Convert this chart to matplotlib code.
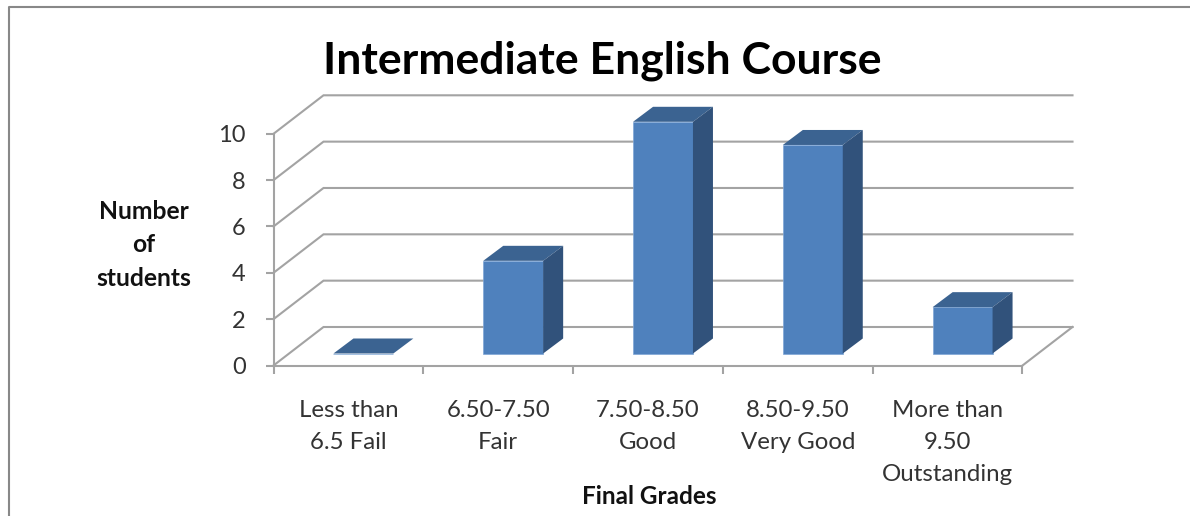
import matplotlib
matplotlib.use("Agg")
import matplotlib.pyplot as plt
from matplotlib.lines import Line2D
from matplotlib.patches import Polygon

plt.rcParams['font.family'] = ['Lato', 'DejaVu Sans']

# Set-up the data
grades = ["Less than\n6.5 Fail", "6.50-7.50\nFair", "7.50-8.50\nGood",
          "8.50-9.50\nVery Good", "More than\n9.50\nOutstanding"]
students = [0, 4, 10, 9, 2]
y_ticks = [0, 2, 4, 6, 8, 10]

W, H = 1190, 516
LEFT, RIGHT, BOTTOM, TOP = 273.5, 1022.5, 365.5, 133.8
px_x = (RIGHT - LEFT) / len(grades)   # pixels per category
px_y = (BOTTOM - TOP) / 10            # pixels per student

# 3d look, in data units
wall_dx, wall_dy = 50 / px_x, 38.5 / px_y
bar_off_x, bar_off_y = 15 / px_x, 12 / px_y
bar_dx, bar_dy = 20 / px_x, 15 / px_y
bar_width = 0.4

grey = '#a3a3a3'
front_col, top_col, side_col = '#4f81bd', '#3b6391', '#31527b'

fig = plt.figure(figsize=(W / 100, H / 100), dpi=100)
ax = fig.add_axes([LEFT / W, 1 - BOTTOM / H, (RIGHT - LEFT) / W, (BOTTOM - TOP) / H])
ax.set_xlim(0, len(grades))
ax.set_ylim(0, 10)

# walls
for v in y_ticks:
    ax.plot([0, wall_dx, len(grades) + wall_dx], [v, v + wall_dy, v + wall_dy],
            color=grey, lw=1.5, clip_on=False, zorder=1, solid_joinstyle='miter')
ax.plot([len(grades), len(grades) + wall_dx], [0, wall_dy], color=grey, lw=1.5,
        clip_on=False, zorder=1)

# bars
xs = [i + 0.5 + bar_off_x for i in range(len(grades))]
ax.bar(xs, students, width=bar_width, bottom=bar_off_y, color=front_col,
       edgecolor='#7fa6d6', linewidth=0.5, clip_on=False, zorder=3)
for x, v in zip(xs, students):
    x0, x1 = x - bar_width / 2, x + bar_width / 2
    y0, y1 = bar_off_y, bar_off_y + v
    ax.add_patch(Polygon([(x0, y1), (x1, y1), (x1 + bar_dx, y1 + bar_dy), (x0 + bar_dx, y1 + bar_dy)],
                         facecolor=top_col, edgecolor='none', clip_on=False, zorder=3))
    if v > 0:
        ax.add_patch(Polygon([(x1, y0), (x1, y1), (x1 + bar_dx, y1 + bar_dy), (x1 + bar_dx, y0 + bar_dy)],
                             facecolor=side_col, edgecolor='none', clip_on=False, zorder=3))

# axes
for s in ['top', 'right']:
    ax.spines[s].set_visible(False)
for s in ['left', 'bottom']:
    ax.spines[s].set_color(grey)
    ax.spines[s].set_linewidth(1.5)
ax.patch.set_alpha(0)
ax.set_yticks(y_ticks)
ax.set_yticklabels([str(v) for v in y_ticks], fontsize=17, color='#333333')
ax.tick_params(axis='y', length=6, width=1.5, color=grey, pad=14)
ax.set_xticks(range(len(grades) + 1))
ax.set_xticklabels([])
ax.tick_params(axis='x', which='major', length=6, width=1.5, color=grey)
ax.set_xticks([i + 0.5 for i in range(len(grades))], minor=True)
ax.set_xticklabels(grades, minor=True, fontsize=17.3, color='#333333', linespacing=1.65)
ax.tick_params(axis='x', which='minor', length=0, pad=24.5)

fig.text(602 / W, 1 - 61 / H, "Intermediate English Course", fontsize=32, fontweight='bold',
         ha='center', va='center', color='black')
fig.text(144 / W, 1 - 245 / H, "Number\nof\nstudents", fontsize=17.7, fontweight='bold',
         ha='center', va='center', color='#111111', linespacing=1.55)
fig.text(649 / W, 1 - 497 / H, "Final Grades", fontsize=17.5, fontweight='bold',
         ha='center', va='center', color='#111111')

# chart frame
fig.add_artist(Line2D([8.5 / W, 8.5 / W, 1], [0, 1 - 6.5 / H, 1 - 6.5 / H], color='#888888', lw=1.5))

fig.savefig("out.png", dpi=100)
